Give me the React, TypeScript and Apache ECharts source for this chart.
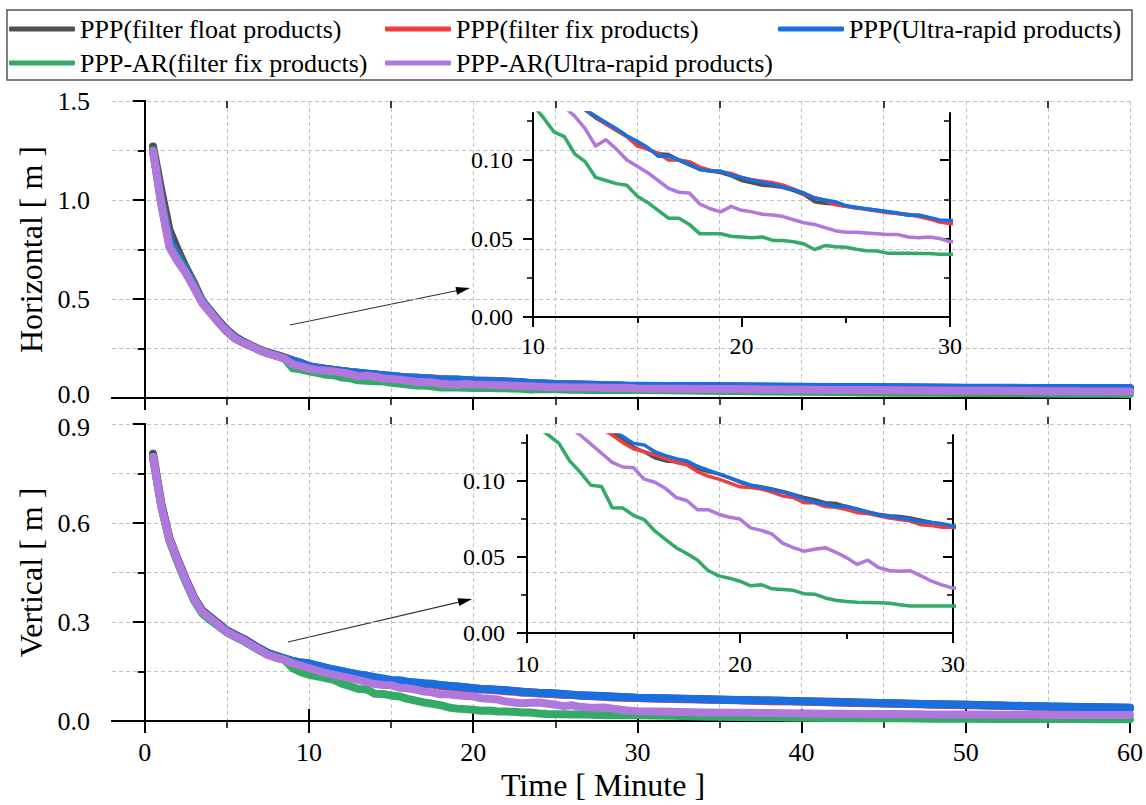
import React, { useEffect, useRef } from 'react';
import * as echarts from 'echarts';

// ---------- data ----------
const TIME = [
  0.5, 1, 1.5, 2, 2.5, 3, 3.5, 4, 4.5, 5, 5.5, 6, 6.5, 7, 7.5, 8, 8.5, 9, 9.5, 10,
  10.5, 11, 11.5, 12, 12.5, 13, 13.5, 14, 14.5, 15,
  15.5, 16, 16.5, 17, 17.5, 18, 18.5, 19, 19.5, 20,
  20.5, 21, 21.5, 22, 22.5, 23, 23.5, 24, 24.5, 25,
  25.5, 26, 26.5, 27, 27.5, 28, 28.5, 29, 29.5, 30,
  32, 34, 36, 38, 40, 42, 44, 46, 48, 50, 52, 54, 56, 58, 60,
];

const SERIES_NAMES = [
  'PPP(filter float products)',
  'PPP(filter fix products)',
  'PPP(Ultra-rapid products)',
  'PPP-AR(filter fix products)',
  'PPP-AR(Ultra-rapid products)',
];
const COLORS = ['#505050', '#ee3e3e', '#1a6fe0', '#33aa66', '#b077dd'];

// Horizontal error [m]
const H_PPP_FLOAT = [
  1.27, 1.05, 0.85, 0.75, 0.66, 0.58, 0.49, 0.44, 0.39, 0.345, 0.31, 0.285, 0.265, 0.245, 0.23, 0.218, 0.205, 0.19, 0.178, 0.161,
  0.154, 0.148, 0.142, 0.137, 0.132, 0.127, 0.123, 0.119, 0.115, 0.111,
  0.107, 0.104, 0.1035, 0.1, 0.097, 0.094, 0.093, 0.092, 0.09, 0.087,
  0.0855, 0.084, 0.0835, 0.0825, 0.0805, 0.078, 0.0735, 0.0725, 0.072, 0.0705,
  0.0695, 0.0688, 0.068, 0.067, 0.066, 0.065, 0.0645, 0.063, 0.061, 0.0605,
  0.06, 0.059, 0.058, 0.057, 0.056, 0.055, 0.054, 0.053, 0.052, 0.051, 0.051, 0.05, 0.05, 0.049, 0.049,
];
const H_PPP_FIX = [
  1.25, 1.0, 0.8, 0.72, 0.65, 0.57, 0.49, 0.435, 0.385, 0.34, 0.305, 0.282, 0.262, 0.243, 0.228, 0.216, 0.205, 0.19, 0.177, 0.16,
  0.153, 0.147, 0.142, 0.137, 0.132, 0.128, 0.123, 0.119, 0.115, 0.109,
  0.107, 0.1045, 0.1, 0.1, 0.099, 0.0955, 0.0935, 0.0925, 0.0915, 0.089,
  0.0875, 0.0865, 0.0855, 0.084, 0.0815, 0.0785, 0.076, 0.0745, 0.0715, 0.0705,
  0.07, 0.0685, 0.0675, 0.0665, 0.066, 0.0655, 0.064, 0.0625, 0.0605, 0.0595,
  0.059, 0.058, 0.057, 0.056, 0.055, 0.054, 0.053, 0.053, 0.052, 0.051, 0.05, 0.05, 0.049, 0.049, 0.048,
];
const H_PPP_ULTRA = [
  1.25, 1.0, 0.8, 0.72, 0.65, 0.57, 0.49, 0.435, 0.385, 0.34, 0.305, 0.282, 0.262, 0.243, 0.228, 0.215, 0.203, 0.189, 0.176, 0.16,
  0.153, 0.147, 0.142, 0.137, 0.132, 0.128, 0.124, 0.12, 0.1155, 0.112,
  0.108, 0.1025, 0.1025, 0.1, 0.0975, 0.094, 0.093, 0.093, 0.0905, 0.089,
  0.0872, 0.0857, 0.0845, 0.0826, 0.0812, 0.079, 0.0758, 0.0745, 0.0735, 0.071,
  0.0698, 0.069, 0.068, 0.0672, 0.0663, 0.0648, 0.065, 0.0635, 0.0618, 0.0615,
  0.061, 0.06, 0.059, 0.058, 0.057, 0.056, 0.055, 0.054, 0.053, 0.052, 0.052, 0.051, 0.051, 0.05, 0.05,
];
const H_AR_FIX = [
  1.25, 0.98, 0.77, 0.7, 0.635, 0.56, 0.48, 0.43, 0.38, 0.335, 0.3, 0.278, 0.26, 0.24, 0.225, 0.212, 0.2, 0.15, 0.145, 0.135,
  0.127, 0.118, 0.115, 0.104, 0.099, 0.089, 0.087, 0.085, 0.084, 0.077,
  0.073, 0.068, 0.063, 0.063, 0.059, 0.053, 0.053, 0.053, 0.0515, 0.051,
  0.0505, 0.051, 0.0488, 0.0487, 0.048, 0.0465, 0.043, 0.0455, 0.0448, 0.0444,
  0.0432, 0.0422, 0.042, 0.0407, 0.0406, 0.0406, 0.0405, 0.0404, 0.04, 0.04,
  0.039, 0.037, 0.035, 0.033, 0.031, 0.03, 0.028, 0.027, 0.026, 0.025, 0.024, 0.023, 0.022, 0.021, 0.02,
];
const H_AR_ULTRA = [
  1.245, 0.98, 0.76, 0.69, 0.63, 0.555, 0.48, 0.43, 0.38, 0.335, 0.3, 0.278, 0.26, 0.24, 0.225, 0.212, 0.198, 0.17, 0.16, 0.148,
  0.142, 0.138, 0.134, 0.128, 0.12, 0.109, 0.113, 0.107, 0.1, 0.096,
  0.092, 0.087, 0.082, 0.0795, 0.079, 0.072, 0.069, 0.067, 0.0705, 0.068,
  0.067, 0.0655, 0.065, 0.064, 0.062, 0.06, 0.059, 0.057, 0.055, 0.054,
  0.054, 0.0535, 0.053, 0.0525, 0.0525, 0.051, 0.0505, 0.051, 0.05, 0.048,
  0.047, 0.046, 0.045, 0.043, 0.042, 0.041, 0.04, 0.039, 0.038, 0.037, 0.036, 0.035, 0.034, 0.033, 0.033,
];

// Vertical error [m]
const V_PPP_FLOAT = [
  0.81, 0.66, 0.555, 0.49, 0.43, 0.375, 0.335, 0.315, 0.295, 0.275, 0.262, 0.25, 0.235, 0.22, 0.207, 0.198, 0.19, 0.182, 0.177, 0.174,
  0.168, 0.162, 0.156, 0.151, 0.146, 0.141, 0.137, 0.132, 0.127, 0.122,
  0.119, 0.115, 0.113, 0.1125, 0.111, 0.108, 0.106, 0.1045, 0.102, 0.099,
  0.097, 0.096, 0.0945, 0.093, 0.091, 0.089, 0.0875, 0.0855, 0.085, 0.083,
  0.0815, 0.0795, 0.078, 0.077, 0.0765, 0.0755, 0.074, 0.0725, 0.0715, 0.07,
  0.068, 0.066, 0.064, 0.062, 0.06, 0.058, 0.055, 0.053, 0.051, 0.049, 0.047, 0.045, 0.043, 0.042, 0.04,
];
const V_PPP_FIX = [
  0.8, 0.655, 0.55, 0.485, 0.425, 0.37, 0.332, 0.312, 0.292, 0.273, 0.26, 0.248, 0.233, 0.218, 0.205, 0.196, 0.188, 0.18, 0.176, 0.172,
  0.165, 0.159, 0.153, 0.148, 0.143, 0.138, 0.134, 0.13, 0.125, 0.121,
  0.119, 0.117, 0.1145, 0.112, 0.1105, 0.106, 0.103, 0.101, 0.0985, 0.096,
  0.0955, 0.0945, 0.0925, 0.09, 0.089, 0.0855, 0.0855, 0.083, 0.0825, 0.081,
  0.079, 0.0785, 0.077, 0.0755, 0.0745, 0.0735, 0.071, 0.0705, 0.0695, 0.0695,
  0.067, 0.065, 0.063, 0.06, 0.059, 0.056, 0.054, 0.052, 0.049, 0.048, 0.046, 0.044, 0.042, 0.041, 0.039,
];
const V_PPP_ULTRA = [
  0.8, 0.655, 0.55, 0.485, 0.425, 0.37, 0.332, 0.312, 0.292, 0.273, 0.26, 0.248, 0.233, 0.218, 0.205, 0.196, 0.189, 0.182, 0.177, 0.175,
  0.168, 0.162, 0.156, 0.151, 0.146, 0.141, 0.137, 0.133, 0.129, 0.1245,
  0.1235, 0.119, 0.1165, 0.1145, 0.113, 0.1095, 0.107, 0.1045, 0.102, 0.0995,
  0.097, 0.0955, 0.094, 0.0925, 0.0905, 0.088, 0.086, 0.0845, 0.083, 0.0832,
  0.081, 0.0795, 0.0775, 0.0765, 0.0755, 0.0745, 0.0728, 0.0725, 0.0718, 0.0702,
  0.068, 0.066, 0.064, 0.062, 0.06, 0.057, 0.055, 0.053, 0.051, 0.049, 0.047, 0.045, 0.043, 0.042, 0.04,
];
const V_AR_FIX = [
  0.8, 0.65, 0.545, 0.48, 0.42, 0.365, 0.325, 0.305, 0.287, 0.268, 0.255, 0.243, 0.228, 0.213, 0.2, 0.192, 0.185, 0.16, 0.148, 0.14,
  0.135, 0.13, 0.1245, 0.113, 0.1055, 0.097, 0.0962, 0.0823, 0.082, 0.0773,
  0.0745, 0.067, 0.0615, 0.056, 0.0522, 0.048, 0.041, 0.0375, 0.036, 0.034,
  0.031, 0.0317, 0.029, 0.0285, 0.028, 0.0258, 0.0255, 0.023, 0.0215, 0.0207,
  0.0202, 0.02, 0.0198, 0.0196, 0.0185, 0.0178, 0.0178, 0.0178, 0.0178, 0.0178,
  0.016, 0.014, 0.012, 0.011, 0.01, 0.009, 0.008, 0.008, 0.007, 0.007, 0.006, 0.006, 0.006, 0.005, 0.005,
];
const V_AR_ULTRA = [
  0.8, 0.65, 0.55, 0.485, 0.425, 0.37, 0.33, 0.31, 0.29, 0.27, 0.257, 0.245, 0.23, 0.215, 0.2, 0.192, 0.185, 0.175, 0.168, 0.16,
  0.153, 0.146, 0.14, 0.135, 0.13, 0.124, 0.118, 0.112, 0.109, 0.1085,
  0.101, 0.099, 0.095, 0.089, 0.087, 0.081, 0.081, 0.078, 0.076, 0.0748,
  0.069, 0.0674, 0.065, 0.059, 0.056, 0.0537, 0.055, 0.056, 0.053, 0.0495,
  0.045, 0.0478, 0.043, 0.041, 0.0405, 0.0408, 0.0375, 0.034, 0.0315, 0.0295,
  0.028, 0.026, 0.025, 0.024, 0.023, 0.022, 0.021, 0.021, 0.02, 0.02, 0.019, 0.019, 0.018, 0.018, 0.018,
];

const H_SERIES = [H_PPP_FLOAT, H_PPP_FIX, H_PPP_ULTRA, H_AR_FIX, H_AR_ULTRA];
const V_SERIES = [V_PPP_FLOAT, V_PPP_FIX, V_PPP_ULTRA, V_AR_FIX, V_AR_ULTRA];

// tick values
const MAIN_X_MAJOR = [0, 10, 20, 30, 40, 50, 60];
const MAIN_X_MINOR = [5, 15, 25, 35, 45, 55];
const INSET_Y_MAJOR = [0, 0.05, 0.1];
const INSET_Y_MINOR = [0.025, 0.075, 0.125];

// ---------- styling ----------
const FONT = "'Liberation Serif', 'Times New Roman', serif";
const BLACK_LINE = { show: true, lineStyle: { color: '#000', width: 2 } };
const DASH = { show: true, lineStyle: { color: '#c2c2c2', width: 1, type: [4, 3] } };
const NO_SPLIT = { show: false };
const MINOR_TICK = (inside: boolean) => ({ show: true, splitNumber: 2, length: 7, inside, lineStyle: { color: '#000', width: 1.5 } });
const INSET_MINOR_TICK = (inside: boolean) => ({ show: true, splitNumber: 2, length: 6, inside, lineStyle: { color: '#000', width: 1.5 } });

function tickStyle(inside: boolean, length: number, width = 2, customValues?: number[]) {
  const t: any = { show: true, inside, length, lineStyle: { color: '#000', width } };
  if (customValues) t.customValues = customValues;
  return t;
}

function hiddenAxis(gridIndex: number) {
  return { type: 'value', gridIndex, show: false, min: 0, max: 1 };
}

const LABEL_MAIN = { fontSize: 26, fontFamily: FONT, color: '#000' };
const LABEL_INSET = { fontSize: 24, fontFamily: FONT, color: '#000' };

function buildOption() {
  const pairs = (ys: number[]) => TIME.map((t, i) => [t, ys[i]]);

  const xAxis: any[] = [
    // 0: top main, bottom major
    { type: 'value', gridIndex: 0, position: 'bottom', min: -2, max: 60, axisLine: BLACK_LINE,
      axisTick: tickStyle(false, 12, 2, MAIN_X_MAJOR), axisLabel: { show: false }, splitLine: DASH },
    // 1: top main, top major (inside)
    { type: 'value', gridIndex: 0, position: 'top', min: -2, max: 60, axisLine: BLACK_LINE,
      axisTick: tickStyle(true, 12, 2, MAIN_X_MAJOR), axisLabel: { show: false }, splitLine: NO_SPLIT },
    // 2: top main minor bottom
    { type: 'value', gridIndex: 1, position: 'bottom', min: -2, max: 60, axisLine: { show: false },
      axisTick: tickStyle(false, 7, 1.5, MAIN_X_MINOR), axisLabel: { show: false }, splitLine: DASH },
    // 3: top main minor top
    { type: 'value', gridIndex: 1, position: 'top', min: -2, max: 60, axisLine: { show: false },
      axisTick: tickStyle(true, 7, 1.5, MAIN_X_MINOR), axisLabel: { show: false }, splitLine: NO_SPLIT },
    // 4: bottom main, bottom major with labels
    { type: 'value', gridIndex: 2, position: 'bottom', min: -2, max: 60, axisLine: BLACK_LINE,
      axisTick: tickStyle(false, 12, 2, MAIN_X_MAJOR),
      axisLabel: { show: true, customValues: MAIN_X_MAJOR, ...LABEL_MAIN, margin: 18 },
      splitLine: DASH,
      name: 'Time [ Minute ]', nameLocation: 'middle', nameGap: 48,
      nameTextStyle: { fontSize: 32, fontFamily: FONT, color: '#000', padding: [0, 36, 0, 0] } },
    // 5: bottom main, top major (outward)
    { type: 'value', gridIndex: 2, position: 'top', min: -2, max: 60, axisLine: BLACK_LINE,
      axisTick: tickStyle(false, 12, 2, MAIN_X_MAJOR), axisLabel: { show: false }, splitLine: NO_SPLIT },
    // 6: bottom main minor bottom
    { type: 'value', gridIndex: 3, position: 'bottom', min: -2, max: 60, axisLine: { show: false },
      axisTick: tickStyle(false, 7, 1.5, MAIN_X_MINOR), axisLabel: { show: false }, splitLine: DASH },
    // 7: bottom main minor top
    { type: 'value', gridIndex: 3, position: 'top', min: -2, max: 60, axisLine: { show: false },
      axisTick: tickStyle(false, 7, 1.5, MAIN_X_MINOR), axisLabel: { show: false }, splitLine: NO_SPLIT },
    // 8: top inset bottom
    { type: 'value', gridIndex: 4, position: 'bottom', min: 10, max: 30, interval: 10, axisLine: BLACK_LINE,
      axisTick: tickStyle(false, 10, 2), minorTick: INSET_MINOR_TICK(false),
      axisLabel: { show: true, ...LABEL_INSET, margin: 17 }, splitLine: NO_SPLIT },
    // 9: top inset top
    { type: 'value', gridIndex: 4, position: 'top', min: 10, max: 30, interval: 10, axisLine: BLACK_LINE,
      axisTick: tickStyle(true, 10, 2), minorTick: INSET_MINOR_TICK(true),
      axisLabel: { show: false }, splitLine: NO_SPLIT },
    // 10: bottom inset bottom
    { type: 'value', gridIndex: 5, position: 'bottom', min: 10, max: 30, interval: 10, axisLine: BLACK_LINE,
      axisTick: tickStyle(false, 10, 2), minorTick: INSET_MINOR_TICK(false),
      axisLabel: { show: true, ...LABEL_INSET, margin: 19 }, splitLine: NO_SPLIT },
    // 11: bottom inset top
    { type: 'value', gridIndex: 5, position: 'top', min: 10, max: 30, interval: 10, axisLine: BLACK_LINE,
      axisTick: tickStyle(true, 10, 2), minorTick: INSET_MINOR_TICK(true),
      axisLabel: { show: false }, splitLine: NO_SPLIT },
    hiddenAxis(6),
    hiddenAxis(7),
  ];

  const yName = (name: string) => ({
    name, nameLocation: 'middle', nameGap: 60, nameRotate: 90,
    nameTextStyle: { fontSize: 32, fontFamily: FONT, color: '#000' },
  });

  const yAxis: any[] = [
    // 0: top main left
    { type: 'value', gridIndex: 0, position: 'left', min: 0, max: 1.5, interval: 0.5, axisLine: BLACK_LINE,
      axisTick: tickStyle(false, 12, 2), minorTick: MINOR_TICK(false),
      axisLabel: {
        show: true, ...LABEL_MAIN, margin: 22,
        formatter: (v: number) => (v === 0 ? '{lo|0.0}' : v.toFixed(1)),
        rich: { lo: { ...LABEL_MAIN, padding: [0, 0, 7, 0] } },
      },
      splitLine: DASH, minorSplitLine: DASH, ...yName('Horizontal [ m ]') },
    // 1: top main right
    { type: 'value', gridIndex: 0, position: 'right', min: 0, max: 1.5, interval: 0.5, axisLine: BLACK_LINE,
      axisTick: tickStyle(true, 12, 2), minorTick: MINOR_TICK(true),
      axisLabel: { show: false }, splitLine: NO_SPLIT },
    hiddenAxis(1),
    // 3: bottom main left
    { type: 'value', gridIndex: 2, position: 'left', min: 0, max: 0.9, interval: 0.3, axisLine: BLACK_LINE,
      axisTick: tickStyle(false, 12, 2), minorTick: MINOR_TICK(false),
      axisLabel: {
        show: true, ...LABEL_MAIN, margin: 22,
        formatter: (v: number) => (Math.abs(v - 0.9) < 1e-6 ? '{hi|0.9}' : v.toFixed(1)),
        rich: { hi: { ...LABEL_MAIN, padding: [7, 0, 0, 0] } },
      },
      splitLine: DASH, minorSplitLine: DASH, ...yName('Vertical [ m ]') },
    // 4: bottom main right
    { type: 'value', gridIndex: 2, position: 'right', min: 0, max: 0.9, interval: 0.3, axisLine: BLACK_LINE,
      axisTick: tickStyle(true, 12, 2), minorTick: MINOR_TICK(true),
      axisLabel: { show: false }, splitLine: NO_SPLIT },
    hiddenAxis(3),
    // 6: top inset left
    { type: 'value', gridIndex: 4, position: 'left', min: 0, max: 0.13, interval: 0.05, axisLine: BLACK_LINE,
      axisTick: tickStyle(false, 10, 2, INSET_Y_MAJOR),
      axisLabel: { show: true, customValues: INSET_Y_MAJOR, ...LABEL_INSET, margin: 20, formatter: (v: number) => v.toFixed(2) },
      splitLine: NO_SPLIT },
    // 7: top inset right
    { type: 'value', gridIndex: 4, position: 'right', min: 0, max: 0.13, interval: 0.05, axisLine: BLACK_LINE,
      axisTick: tickStyle(true, 10, 2, INSET_Y_MAJOR), axisLabel: { show: false }, splitLine: NO_SPLIT },
    // 8: bottom inset left
    { type: 'value', gridIndex: 5, position: 'left', min: 0, max: 0.13, interval: 0.05, axisLine: BLACK_LINE,
      axisTick: tickStyle(false, 10, 2, INSET_Y_MAJOR),
      axisLabel: { show: true, customValues: INSET_Y_MAJOR, ...LABEL_INSET, margin: 22, formatter: (v: number) => v.toFixed(2) },
      splitLine: NO_SPLIT },
    // 9: bottom inset right
    { type: 'value', gridIndex: 5, position: 'right', min: 0, max: 0.13, interval: 0.05, axisLine: BLACK_LINE,
      axisTick: tickStyle(true, 10, 2, INSET_Y_MAJOR), axisLabel: { show: false }, splitLine: NO_SPLIT },
    // 10-13: inset minor ticks
    { type: 'value', gridIndex: 6, position: 'left', min: 0, max: 0.13, axisLine: { show: false },
      axisTick: tickStyle(false, 6, 1.5, INSET_Y_MINOR), axisLabel: { show: false }, splitLine: NO_SPLIT },
    { type: 'value', gridIndex: 6, position: 'right', min: 0, max: 0.13, axisLine: { show: false },
      axisTick: tickStyle(true, 6, 1.5, INSET_Y_MINOR), axisLabel: { show: false }, splitLine: NO_SPLIT },
    { type: 'value', gridIndex: 7, position: 'left', min: 0, max: 0.13, axisLine: { show: false },
      axisTick: tickStyle(false, 6, 1.5, INSET_Y_MINOR), axisLabel: { show: false }, splitLine: NO_SPLIT },
    { type: 'value', gridIndex: 7, position: 'right', min: 0, max: 0.13, axisLine: { show: false },
      axisTick: tickStyle(true, 6, 1.5, INSET_Y_MINOR), axisLabel: { show: false }, splitLine: NO_SPLIT },
  ];

  const mkSeries = (data: number[][], xi: number, yi: number, width: number) =>
    SERIES_NAMES.map((name, k) => ({
      type: 'line',
      name,
      xAxisIndex: xi,
      yAxisIndex: yi,
      data: pairs(data[k]),
      symbol: 'none',
      showSymbol: false,
      clip: true,
      silent: true,
      emphasis: { disabled: true },
      itemStyle: { color: COLORS[k] },
      lineStyle: { color: COLORS[k], width, cap: 'round', join: 'round' },
      z: 3 + k,
    }));

  const series = [
    ...mkSeries(H_SERIES, 0, 0, 8),
    ...mkSeries(V_SERIES, 4, 3, 8),
    ...mkSeries(H_SERIES, 8, 6, 3.5),
    ...mkSeries(V_SERIES, 10, 8, 3.5),
  ];

  const legendBase = {
    icon: 'roundRect',
    itemWidth: 66,
    itemHeight: 5,
    padding: 0,
    selectedMode: false,
    textStyle: { fontSize: 26, fontFamily: FONT, color: '#000', lineHeight: 30 },
  };
  const legendPos = [
    [9, 14], [385, 14], [778, 14], [9, 48], [385, 48],
  ];
  const legend = SERIES_NAMES.map((n, i) => ({
    ...legendBase,
    data: [n],
    left: legendPos[i][0],
    top: legendPos[i][1],
  }));

  const mainTop = { left: 112, top: 101, width: 1018, height: 297 };
  const mainBottom = { left: 112, top: 424, width: 1018, height: 297 };
  const insetTop = { left: 533, top: 113, width: 417, height: 204 };
  const insetBottom = { left: 527, top: 435, width: 426, height: 198 };

  return {
    animation: false,
    backgroundColor: '#fff',
    textStyle: { fontFamily: FONT },
    grid: [
      { ...mainTop, containLabel: false },
      { ...mainTop, containLabel: false },
      { ...mainBottom, containLabel: false },
      { ...mainBottom, containLabel: false },
      { ...insetTop, containLabel: false },
      { ...insetBottom, containLabel: false },
      { ...insetTop, containLabel: false },
      { ...insetBottom, containLabel: false },
    ],
    xAxis,
    yAxis,
    legend,
    series,
    graphic: [
      { type: 'rect', shape: { x: 7, y: 10, width: 1125, height: 70 }, style: { fill: 'none', stroke: '#555', lineWidth: 1.5 }, silent: true },
      { type: 'line', shape: { x1: 290, y1: 325, x2: 460, y2: 290 }, style: { stroke: '#333', lineWidth: 1.2 }, silent: true },
      { type: 'polygon', shape: { points: [[470, 288], [457.1, 294.7], [455.5, 286.9]] }, style: { fill: '#000' }, silent: true },
      { type: 'line', shape: { x1: 288, y1: 642, x2: 462, y2: 601.4 }, style: { stroke: '#333', lineWidth: 1.2 }, silent: true },
      { type: 'polygon', shape: { points: [[472, 599], [459.3, 606.1], [457.5, 598.3]] }, style: { fill: '#000' }, silent: true },
    ],
  };
}

export default function App() {
  const ref = useRef<HTMLDivElement>(null);
  useEffect(() => {
    if (!ref.current) return;
    const chart = echarts.init(ref.current, undefined, { renderer: 'svg' });
    chart.setOption(buildOption() as any);
    return () => chart.dispose();
  }, []);
  return (
    <div
      ref={ref}
      style={{ position: 'absolute', left: 0, top: 0, width: 1146, height: 805, background: '#fff' }}
    />
  );
}
